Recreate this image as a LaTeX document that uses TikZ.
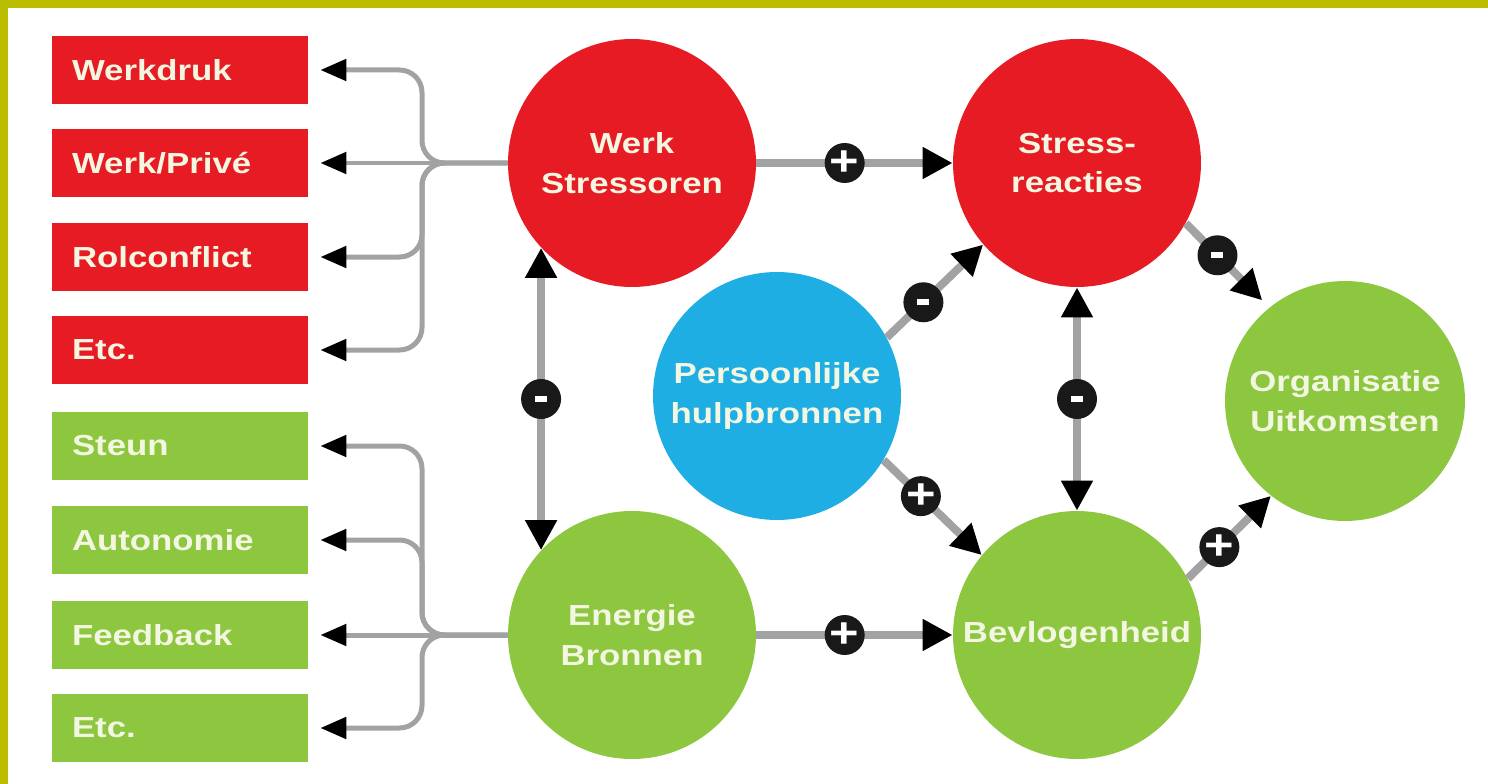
\documentclass[tikz,border=0pt]{standalone}
\usepackage{fontspec}
\setmainfont[FakeStretch=1.2]{Liberation Sans}
\usetikzlibrary{arrows.meta}
\definecolor{rood}{RGB}{230,27,35}
\definecolor{groen}{RGB}{141,198,63}
\definecolor{blauw}{RGB}{30,174,228}
\definecolor{rand}{RGB}{187,189,0}
\definecolor{lijn}{RGB}{162,162,164}
\definecolor{room}{RGB}{243,247,226}
\newcommand{\mintk}{\rule{0.24cm}{0.12cm}}
\tikzset{
  box/.style={minimum width=5.12cm,minimum height=1.36cm,inner xsep=0.4cm,text width=4.32cm,
    align=left,text=room,font=\fontsize{16.5}{19}\selectfont\bfseries},
  bol/.style={circle,minimum size=4.96cm,inner sep=0pt,text=room,align=center,
    font=\fontsize{16.5}{22.7}\selectfont\bfseries},
  sgn/.style={circle,fill=black!90,minimum size=0.8cm,inner sep=0pt,text=white,
    font=\fontsize{24}{24}\selectfont\bfseries},
  link/.style={draw=lijn,line width=0.16cm},
  tak/.style={draw=lijn,line width=0.1cm,rounded corners=0.45cm,shorten >=0.24cm,
    -{Triangle[length=0.52cm,width=0.42cm,color=black]}}
}
\begin{document}
\begin{tikzpicture}[x=0.02cm,y=-0.02cm,>={Triangle[length=0.6cm,width=0.6cm,color=black]}]
\useasboundingbox (0,0) rectangle (1488,784);
\fill[rand] (0,0) rectangle (1488,8);
\fill[rand] (0,0) rectangle (8,784);

\node[box,fill=rood] (werkdruk) at (180,70) {Werkdruk};
\node[box,fill=rood] (prive) at (180,163) {Werk/Privé};
\node[box,fill=rood] (rolconflict) at (180,257) {Rolconflict};
\node[box,fill=rood] (etcrood) at (180,350) {Etc.};
\node[box,fill=groen] (steun) at (180,446) {Steun};
\node[box,fill=groen] (autonomie) at (180,540) {Autonomie};
\node[box,fill=groen] (feedback) at (180,635) {Feedback};
\node[box,fill=groen] (etcgroen) at (180,728) {Etc.};

\node[bol,fill=rood] (stressoren) at (632,163) {Werk\\Stressoren};
\node[bol,fill=rood] (reacties) at (1077,163) {Stress-\\reacties};
\node[bol,fill=blauw] (hulp) at (777,396) {Persoonlijke\\hulpbronnen};
\node[bol,fill=groen,minimum size=4.8cm] (uitkomsten) at (1345,401) {Organisatie\\Uitkomsten};
\node[bol,fill=groen] (energie) at (632,635) {Energie\\Bronnen};
\node[bol,fill=groen] (bevlogen) at (1077,635) {Bevlogenheid};

\coordinate (splitrood) at (422,163);
\coordinate (splitgroen) at (422,635);
\foreach \n in {werkdruk,rolconflict,etcrood}
  \draw[tak] (stressoren.west) -- (splitrood) |- (\n.east);
\draw[tak] (stressoren.west) -- (prive.east);
\foreach \n in {steun,autonomie,etcgroen}
  \draw[tak] (energie.west) -- (splitgroen) |- (\n.east);
\draw[tak] (energie.west) -- (feedback.east);

\draw[link,->] (stressoren) -- node[sgn,pos=.45]{+} (reacties);
\draw[link,->] (energie) -- node[sgn,pos=.45]{+} (bevlogen);
\draw[link,<->] (stressoren.223) -- node[sgn]{\mintk} (energie.137);
\draw[link,<->] (reacties.south) -- node[sgn]{\mintk} (bevlogen.north);
\draw[link,->] (hulp.28) -- node[sgn,pos=.38]{\mintk} (reacties.221);
\draw[link,->] (hulp.-31) -- node[sgn,pos=.38]{+} (bevlogen.140);
\draw[link,->,shorten >=0.2cm] (reacties.-29) -- node[sgn,pos=.38]{\mintk} (uitkomsten.129);
\draw[link,->] (bevlogen.27) -- node[sgn,pos=.38]{+} (uitkomsten.232);

\end{tikzpicture}
\end{document}
